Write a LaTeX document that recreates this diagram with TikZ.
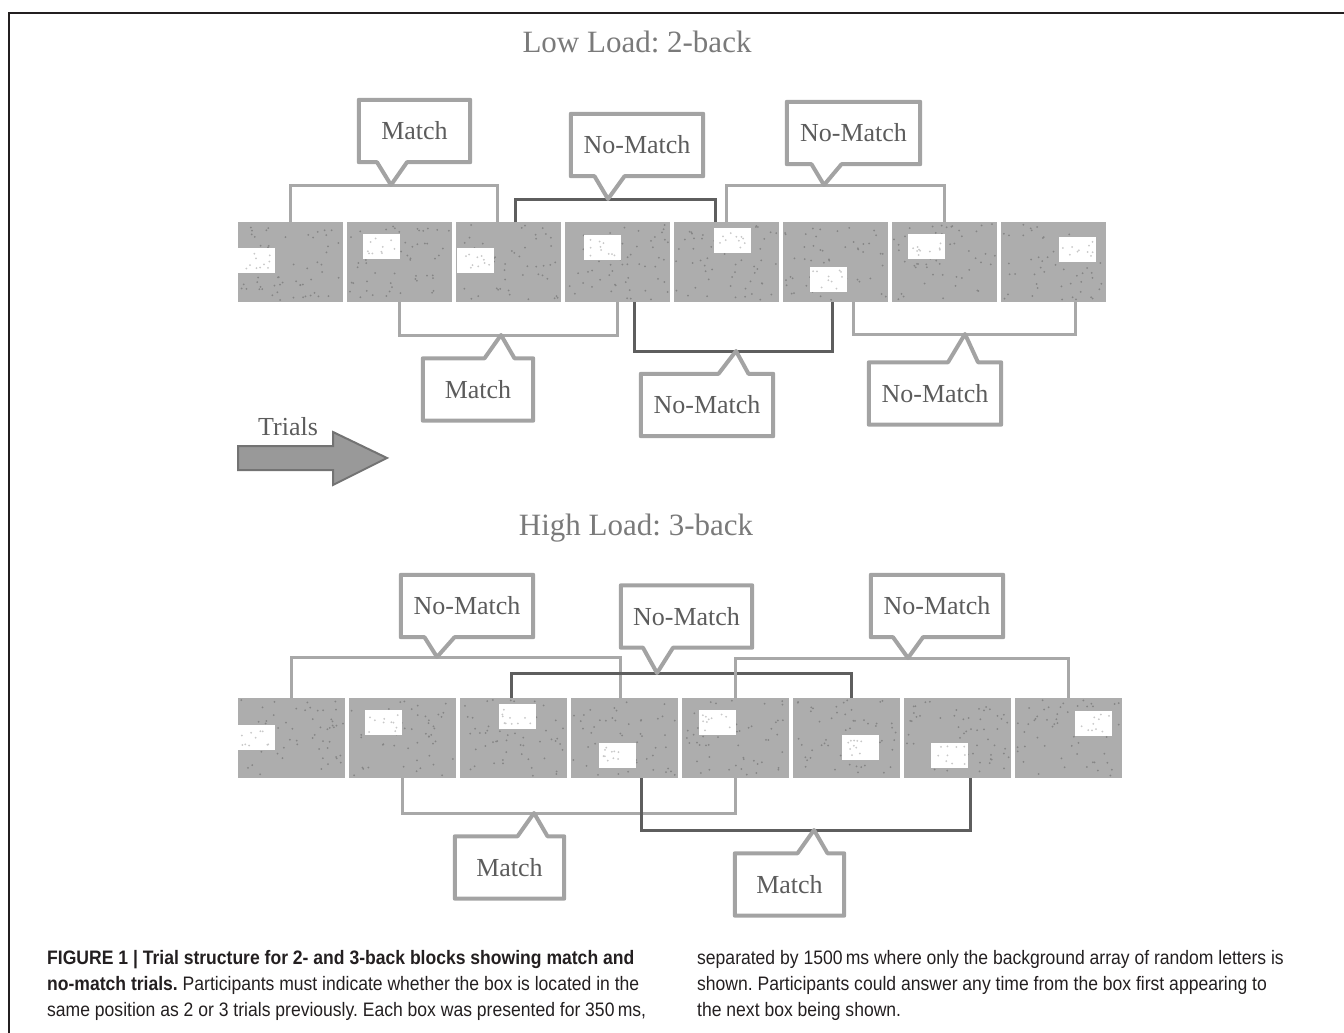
\documentclass[tikz,border=0pt]{standalone}
\usepackage{fontspec}
\setmainfont{Liberation Serif}
\newfontfamily\capfont[FakeStretch=0.9]{Liberation Sans}
\usetikzlibrary{calc}
\frenchspacing

\definecolor{panelgray}{HTML}{ADADAD}
\definecolor{speckgray}{HTML}{858585}
\definecolor{probespeck}{HTML}{C8C8C8}
\definecolor{lightline}{HTML}{A8A8A8}
\definecolor{darkline}{HTML}{5E5E5E}
\definecolor{tagedge}{HTML}{A3A3A3}
\definecolor{labelgray}{HTML}{5C5C5C}
\definecolor{titlegray}{HTML}{7A7A7A}
\definecolor{captext}{HTML}{231F20}

\tikzset{
  trial/.style={fill=panelgray, minimum height=80pt, inner sep=0pt, anchor=north west},
  probe/.style={fill=white, minimum width=37pt, minimum height=25pt, inner sep=0pt, anchor=north west},
  tag/.style={minimum width=#1, minimum height=62pt, inner sep=0pt,
    font=\fontsize{26}{26}\selectfont, text=labelgray},
  tag line/.style={draw=tagedge, line width=4pt, line join=round},
  light link/.style={draw=lightline, line width=3pt},
  dark link/.style={draw=darkline, line width=3pt},
  title/.style={font=\fontsize{31}{31}\selectfont, text=titlegray, anchor=base},
  capline/.style={font=\capfont\fontsize{19.5}{19.5}\selectfont, text=captext, anchor=base west, inner sep=0pt},
}

% outline of a label with its pointer below / above
\newcommand{\tagdown}[3]{%
  \draw[tag line] (#1.north west) -- (#1.north east) -- (#1.south east)
    -- ([xshift=#2+15pt]#1.south) -- (#3) -- ([xshift=#2-15pt]#1.south)
    -- (#1.south west) -- cycle;}
\newcommand{\tagup}[3]{%
  \draw[tag line] (#1.south west) -- (#1.south east) -- (#1.north east)
    -- ([xshift=#2+15pt]#1.north) -- (#3) -- ([xshift=#2-15pt]#1.north)
    -- (#1.north west) -- cycle;}

\begin{document}
\begin{tikzpicture}[x=1pt, y=-1pt]
    \useasboundingbox (0,0) rectangle (1344,1033);
    \pgfmathsetseed{17}

    % frame
    \draw[line width=2pt, draw=captext] (9,1033) -- (9,13) -- (1344,13);

    % LOW LOAD
    \node[title] (lowtitle) at (637,53) {Low Load: 2-back};

    \foreach \i/\dx/\dy in {1/0/26, 2/16/12, 3/1/26, 4/19/13, 5/40/6, 6/27/45, 7/16/12, 8/58/15} {
        \node[trial, minimum width=105pt] (low\i) at ({238+109*(\i-1)},222) {};
        \foreach \k in {1,...,55}
            \fill[speckgray] ($(low\i.north west)+(2+rnd*101,2+rnd*76)$) circle (1pt);
        \node[probe] (lowp\i) at ($(low\i.north west)+(\dx,\dy)$) {};
        \foreach \k in {1,...,10}
            \fill[probespeck] ($(lowp\i.north west)+(3+rnd*31,3+rnd*19)$) circle (1pt);
    }

    \coordinate (tipA) at (391,185);
    \draw[light link] (low1.north) |- (tipA) -| ([xshift=-11.5pt]low3.north);
    \coordinate (tipB) at (608,199);
    \draw[dark link] ([xshift=6.5pt]low3.north) |- (tipB) -| ([xshift=-11.5pt]low5.north);
    \coordinate (tipC) at (824,185);
    \draw[light link] (low5.north) |- (tipC) -| (low7.north);
    \coordinate (tipD) at (501,335);
    \draw[light link] (low2.south) |- (tipD) -| (low4.south);
    \coordinate (tipE) at (736,351);
    \draw[dark link] ([xshift=16.5pt]low4.south) |- (tipE) -| ([xshift=-3.5pt]low6.south);
    \coordinate (tipF) at (965,334);
    \draw[light link] ([xshift=17.5pt]low6.south) |- (tipF) -| ([xshift=21.5pt]low8.south);

    \node[tag=111pt] (tagA) at (414.5,131) {Match};
    \tagdown{tagA}{-22.5pt}{tipA}
    \node[tag=132pt] (tagB) at (637,145) {No-Match};
    \tagdown{tagB}{-27.5pt}{tipB}
    \node[tag=133pt] (tagC) at (853.5,133) {No-Match};
    \tagdown{tagC}{-27pt}{tipC}
    \node[tag=110pt] (tagD) at (478,389.5) {Match};
    \tagup{tagD}{21.5pt}{tipD}
    \node[tag=132pt] (tagE) at (707,405) {No-Match};
    \tagup{tagE}{26.5pt}{tipE}
    \node[tag=132pt] (tagF) at (935,393.5) {No-Match};
    \tagup{tagF}{28pt}{tipF}

    % trials arrow
    \node[font=\fontsize{26}{26}\selectfont, text=labelgray, anchor=base west, inner sep=0pt]
        (trials) at (258,435) {Trials};
    \draw[fill=black!40, draw=black!55, line width=2pt, line join=miter]
        (238,446) -- (333,446) -- (333,432) -- (387,458) -- (333,485) -- (333,470) -- (238,470) -- cycle;

    % HIGH LOAD
    \node[title] (hightitle) at (636,535) {High Load: 3-back};

    \foreach \i/\dx/\dy in {1/0/27, 2/16/12, 3/39/6, 4/28/45, 5/17/12, 6/49/37, 7/27/45, 8/60/13} {
        \node[trial, minimum width=107pt] (high\i) at ({238+111*(\i-1)},698) {};
        \foreach \k in {1,...,55}
            \fill[speckgray] ($(high\i.north west)+(2+rnd*103,2+rnd*76)$) circle (1pt);
        \node[probe] (highp\i) at ($(high\i.north west)+(\dx,\dy)$) {};
        \foreach \k in {1,...,10}
            \fill[probespeck] ($(highp\i.north west)+(3+rnd*31,3+rnd*19)$) circle (1pt);
    }

    \coordinate (tipG) at (437,657);
    \draw[light link] (high1.north) |- (tipG) -| ([xshift=-4.5pt]high4.north);
    \coordinate (tipH) at (657,673);
    \draw[dark link] ([xshift=-2.5pt]high3.north) |- (tipH) -| ([xshift=4.5pt]high6.north);
    \coordinate (tipI) at (908,658);
    \draw[light link] (high5.north) |- (tipI) -| (high8.north);
    \coordinate (tipJ) at (534,813);
    \draw[light link] (high2.south) |- (tipJ) -| (high5.south);
    \coordinate (tipK) at (814,830);
    \draw[dark link] ([xshift=16.5pt]high4.south) |- (tipK) -| ([xshift=12.5pt]high7.south);

    \node[tag=132pt] (tagG) at (467,606) {No-Match};
    \tagdown{tagG}{-27.5pt}{tipG}
    \node[tag=131pt] (tagH) at (686.5,616.5) {No-Match};
    \tagdown{tagH}{-28.5pt}{tipH}
    \node[tag=132pt] (tagI) at (937,606) {No-Match};
    \tagdown{tagI}{-29pt}{tipI}
    \node[tag=109pt] (tagJ) at (509.5,867.5) {Match};
    \tagup{tagJ}{23pt}{tipJ}
    \node[tag=109pt] (tagK) at (789.5,884.5) {Match};
    \tagup{tagK}{23pt}{tipK}

    % caption
    \node[capline] (cap1) at (47,964) {\textbf{FIGURE 1 | Trial structure for 2- and 3-back blocks showing match and}};
    \node[capline] (cap2) at (47,990) {\textbf{no-match trials.} Participants must indicate whether the box is located in the};
    \node[capline] (cap3) at (47,1016) {same position as 2 or 3 trials previously. Each box was presented for 350\,ms,};
    \node[capline] (cap4) at (697,964) {separated by 1500\,ms where only the background array of random letters is};
    \node[capline] (cap5) at (697,990) {shown. Participants could answer any time from the box first appearing to};
    \node[capline] (cap6) at (697,1016) {the next box being shown.};
\end{tikzpicture}
\end{document}
